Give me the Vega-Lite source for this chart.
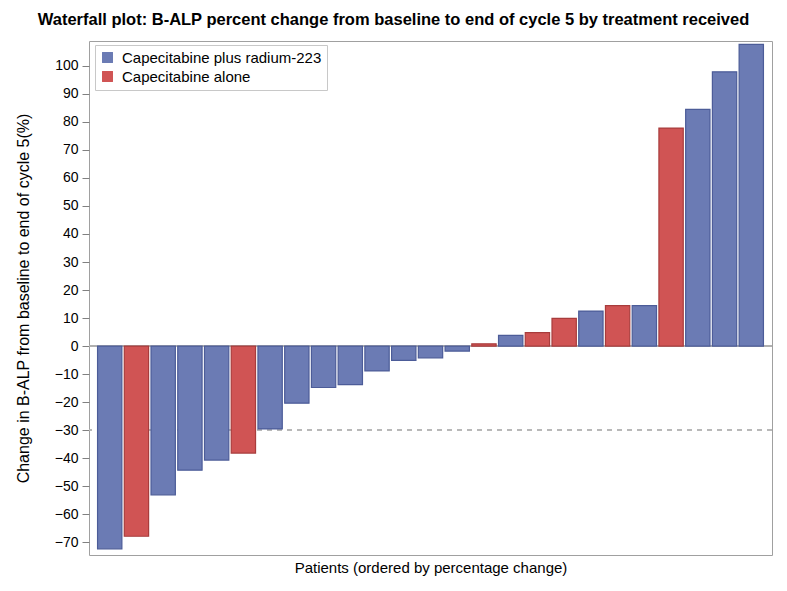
{
  "$schema": "https://vega.github.io/schema/vega-lite/v6.json",
  "width": 683,
  "height": 514,
  "autosize": {"type": "none"},
  "padding": {"left": 89, "top": 41, "right": 15, "bottom": 36},
  "background": "white",
  "title": {
    "text": "Waterfall plot: B-ALP percent change from baseline to end of cycle 5 by treatment received",
    "font": "Liberation Sans",
    "fontSize": 16.5,
    "fontWeight": "bold",
    "color": "#000000",
    "anchor": "middle",
    "dx": -37,
    "offset": 13
  },
  "config": {
    "view": {"stroke": "#a0a0a0", "strokeWidth": 1},
    "font": "Liberation Sans"
  },
  "data": {
    "values": [
      {"patient": 1, "change": -72.4, "treatment": "Capecitabine plus radium-223"},
      {"patient": 2, "change": -67.9, "treatment": "Capecitabine alone"},
      {"patient": 3, "change": -53.1, "treatment": "Capecitabine plus radium-223"},
      {"patient": 4, "change": -44.3, "treatment": "Capecitabine plus radium-223"},
      {"patient": 5, "change": -40.7, "treatment": "Capecitabine plus radium-223"},
      {"patient": 6, "change": -38.2, "treatment": "Capecitabine alone"},
      {"patient": 7, "change": -29.6, "treatment": "Capecitabine plus radium-223"},
      {"patient": 8, "change": -20.4, "treatment": "Capecitabine plus radium-223"},
      {"patient": 9, "change": -14.8, "treatment": "Capecitabine plus radium-223"},
      {"patient": 10, "change": -13.8, "treatment": "Capecitabine plus radium-223"},
      {"patient": 11, "change": -8.9, "treatment": "Capecitabine plus radium-223"},
      {"patient": 12, "change": -5.1, "treatment": "Capecitabine plus radium-223"},
      {"patient": 13, "change": -4.2, "treatment": "Capecitabine plus radium-223"},
      {"patient": 14, "change": -1.8, "treatment": "Capecitabine plus radium-223"},
      {"patient": 15, "change": 0.8, "treatment": "Capecitabine alone"},
      {"patient": 16, "change": 3.8, "treatment": "Capecitabine plus radium-223"},
      {"patient": 17, "change": 4.8, "treatment": "Capecitabine alone"},
      {"patient": 18, "change": 9.9, "treatment": "Capecitabine alone"},
      {"patient": 19, "change": 12.5, "treatment": "Capecitabine plus radium-223"},
      {"patient": 20, "change": 14.4, "treatment": "Capecitabine alone"},
      {"patient": 21, "change": 14.4, "treatment": "Capecitabine plus radium-223"},
      {"patient": 22, "change": 77.8, "treatment": "Capecitabine alone"},
      {"patient": 23, "change": 84.5, "treatment": "Capecitabine plus radium-223"},
      {"patient": 24, "change": 97.9, "treatment": "Capecitabine plus radium-223"},
      {"patient": 25, "change": 107.7, "treatment": "Capecitabine plus radium-223"}
    ]
  },
  "layer": [
    {
      "mark": {"type": "rule", "color": "#b0b0b0", "strokeWidth": 1},
      "encoding": {
        "y": {
          "datum": 0,
          "type": "quantitative",
          "scale": {"domain": [-74.6, 108.9], "nice": false, "zero": false},
          "axis": {
            "title": "Change in B-ALP from baseline to end of cycle 5(%)",
            "values": [-70, -60, -50, -40, -30, -20, -10, 0, 10, 20, 30, 40, 50, 60, 70, 80, 90, 100],
            "tickCount": 40,
            "labelOverlap": false,
            "grid": false,
            "domain": false,
            "tickColor": "#808080",
            "tickSize": 7,
            "labelFont": "Liberation Sans",
            "labelFontSize": 14,
            "labelColor": "#000000",
            "labelPadding": 4,
            "titleFont": "Liberation Sans",
            "titleFontSize": 16,
            "titleFontWeight": "normal",
            "titleColor": "#000000",
            "titlePadding": 23
          }
        }
      }
    },
    {
      "mark": {"type": "rule", "color": "#b8b8b8", "strokeWidth": 1.5, "strokeDash": [5, 5]},
      "encoding": {"y": {"datum": -30, "type": "quantitative"}}
    },
    {
      "mark": {"type": "bar", "strokeWidth": 1.2},
      "encoding": {
        "x": {
          "field": "patient",
          "type": "ordinal",
          "scale": {"paddingInner": 0.09, "paddingOuter": 0.32},
          "axis": {
            "title": "Patients (ordered by percentage change)",
            "labels": false,
            "ticks": false,
            "domain": false,
            "titleFont": "Liberation Sans",
            "titleFontSize": 15,
            "titleFontWeight": "normal",
            "titleColor": "#000000",
            "titlePadding": 5
          }
        },
        "y": {
          "field": "change",
          "type": "quantitative",
          "scale": {"domain": [-74.6, 108.9], "nice": false, "zero": false},
          "axis": {
            "title": "Change in B-ALP from baseline to end of cycle 5(%)",
            "values": [-70, -60, -50, -40, -30, -20, -10, 0, 10, 20, 30, 40, 50, 60, 70, 80, 90, 100],
            "tickCount": 40,
            "labelOverlap": false,
            "grid": false,
            "domain": false,
            "tickColor": "#808080",
            "tickSize": 7,
            "labelFont": "Liberation Sans",
            "labelFontSize": 14,
            "labelColor": "#000000",
            "labelPadding": 4,
            "titleFont": "Liberation Sans",
            "titleFontSize": 16,
            "titleFontWeight": "normal",
            "titleColor": "#000000",
            "titlePadding": 23
          }
        },
        "color": {
          "field": "treatment",
          "type": "nominal",
          "scale": {"domain": ["Capecitabine plus radium-223", "Capecitabine alone"], "range": ["#6B7BB4", "#D05454"]},
          "legend": {
            "title": null,
            "orient": "none",
            "legendX": 6,
            "legendY": 4,
            "padding": 5,
            "strokeColor": "#c8c8c8",
            "fillColor": "white",
            "symbolType": "square",
            "symbolSize": 120,
            "symbolStrokeWidth": 0,
            "labelFont": "Liberation Sans",
            "labelFontSize": 15,
            "labelLimit": 0,
            "labelOffset": 7,
            "labelColor": "#000000",
            "rowPadding": 3
          }
        },
        "stroke": {
          "field": "treatment",
          "type": "nominal",
          "scale": {"domain": ["Capecitabine plus radium-223", "Capecitabine alone"], "range": ["#4C5C98", "#A83C3C"]},
          "legend": null
        }
      }
    }
  ]
}
